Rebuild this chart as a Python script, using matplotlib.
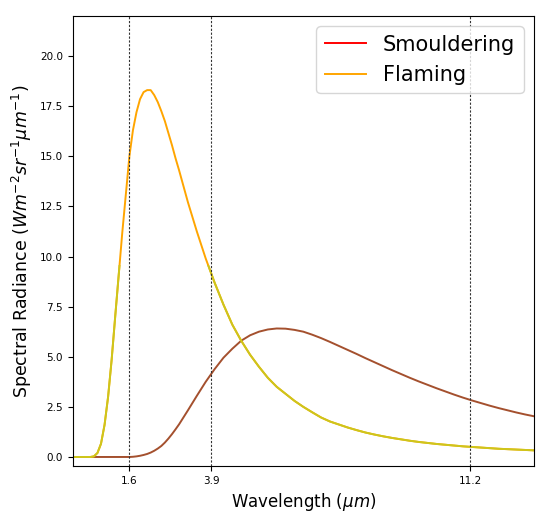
import matplotlib
matplotlib.use('Agg')
import matplotlib.pyplot as plt
import matplotlib.patches as mpatches
import numpy as np

# wavelength grid (um) and radiance values
wavelength = [0.0, 0.5, 0.6, 0.7, 0.8, 0.9, 1.0, 1.1, 1.2, 1.3, 1.4, 1.5, 1.6, 1.7, 1.8, 1.9,
              2.0, 2.1, 2.2, 2.3, 2.4, 2.5, 2.6, 2.7, 2.8, 2.9, 3.0,
              3.25, 3.5, 3.75, 4.0, 4.25, 4.5, 4.75, 5.0, 5.25, 5.5, 5.75, 6.0,
              6.25, 6.5, 6.75, 7.0, 7.25, 7.5, 7.75, 8.0, 8.25, 8.5, 8.75, 9.0,
              9.25, 9.5, 9.75, 10.0, 10.25, 10.5, 10.75, 11.0, 11.25, 11.5, 11.75, 12.0,
              12.25, 12.5, 12.75, 13.0]
smouldering = [0.0, 0.0, 0.0, 0.0, 0.0, 0.0, 0.0, 0.0, 0.0, 0.0, 0.0, 0.0, 0.0, 0.01, 0.03, 0.06,
               0.1, 0.15, 0.22, 0.31, 0.42, 0.55, 0.72, 0.92, 1.14, 1.38, 1.63,
               2.33, 3.05, 3.75, 4.38, 4.95, 5.4, 5.8, 6.07, 6.25, 6.36, 6.41, 6.4,
               6.34, 6.25, 6.1, 5.93, 5.74, 5.54, 5.34, 5.14, 4.93, 4.73, 4.53, 4.33,
               4.14, 3.95, 3.77, 3.6, 3.43, 3.27, 3.11, 2.96, 2.82, 2.69, 2.56, 2.44,
               2.33, 2.22, 2.12, 2.03]
flaming = [0.0, 0.0, 0.03, 0.2, 0.66, 1.6, 3.0, 4.85, 7.0, 9.1, 11.2, 13.1, 15.0, 16.3, 17.2, 17.85,
           18.2, 18.3, 18.3, 18.05, 17.7, 17.25, 16.75, 16.15, 15.55, 14.9, 14.3,
           12.7, 11.25, 9.9, 8.7, 7.6, 6.6, 5.8, 5.1, 4.5, 3.95, 3.5, 3.15,
           2.8, 2.5, 2.23, 1.97, 1.77, 1.62, 1.47, 1.34, 1.22, 1.12, 1.03, 0.95,
           0.88, 0.81, 0.75, 0.7, 0.65, 0.61, 0.57, 0.53, 0.5, 0.47, 0.44, 0.41,
           0.39, 0.37, 0.35, 0.33]
bands = [1.6, 3.9, 11.2]

fig = plt.figure(figsize=(5.5, 5.14), dpi=100)
ax = fig.add_axes([0.132, 0.093, 0.839, 0.876])

ax.plot(wavelength, smouldering, c='#a4502e', lw=1.4)
ax.plot(wavelength, flaming, c='orange', lw=1.4)
# lower part of the flaming curve shows up yellow in the original
low, = ax.plot(wavelength, flaming, c='#cdc61c', lw=1.4)
clip = mpatches.Rectangle((0, -1), 14, 10.6, transform=ax.transData)
low.set_clip_path(clip)

for b in bands:
    ax.axvline(b, c='#333333', lw=0.8, ls=(0, (2, 1.5)))

ax.set_xlim(0, 13)
ax.set_ylim(-0.46, 22)
ax.set_xticks(bands)
ax.set_xticklabels([str(b) for b in bands])
ax.set_yticks(np.arange(0, 20.1, 2.5))
ax.tick_params(labelsize=7.5)
ax.set_xlabel(r'Wavelength ($\mu m$)', fontsize=12)
ax.set_ylabel(r'Spectral Radiance ($Wm^{-2}sr^{-1}\mu m^{-1}$)', fontsize=12.5)

handles = [plt.Line2D([], [], c='red', lw=1.4), plt.Line2D([], [], c='orange', lw=1.4)]
ax.legend(handles, ['Smouldering', 'Flaming'], loc='upper right', fontsize=15)

fig.savefig('out.png', dpi=100)
